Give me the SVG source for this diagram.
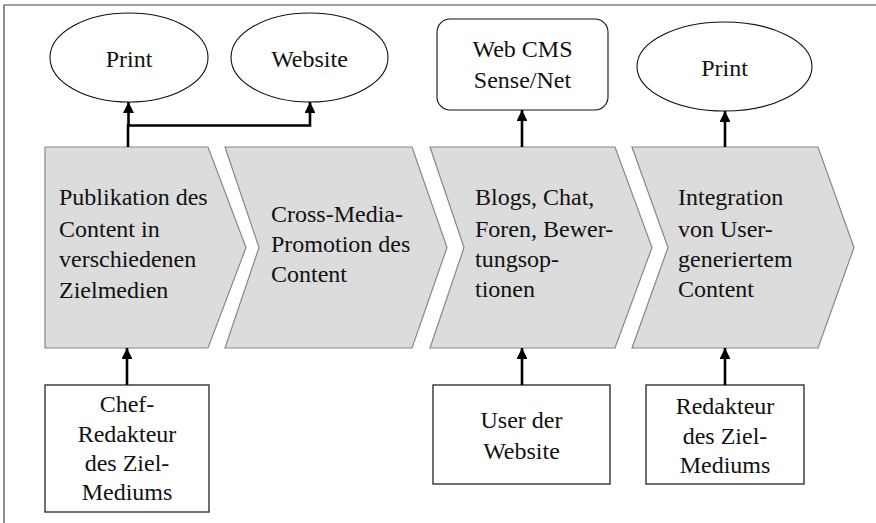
<svg xmlns="http://www.w3.org/2000/svg" width="876" height="523" viewBox="0 0 876 523">
  <style>
    .frame { fill: none; stroke: #444; stroke-width: 1.2; }
    .step { fill: #dcdcdc; stroke: #888; stroke-width: 1.2; }
    .oval { fill: #fff; stroke: #111; stroke-width: 1.1; }
    .box { fill: #fff; stroke: #333; stroke-width: 1.4; }
    .conn { fill: none; stroke: #000; stroke-width: 2.6; }
    .c { text-anchor: middle; }
  </style>
  <defs>
    <marker id="arrow" viewBox="0 0 10 10" refX="10" refY="5" markerWidth="4.2" markerHeight="4.2" orient="auto" markerUnits="strokeWidth">
      <path d="M0,0 L10,5 L0,10 Z" fill="#000"/>
    </marker>
  </defs>

  <!-- outer frame (top and left edge) -->
  <path class="frame" d="M4,523 V5 H876"/>

  <g font-family="'Liberation Serif', 'DejaVu Serif', serif" font-size="24" fill="#111">
  <!-- top row: output media -->
  <g id="print-1">
    <ellipse class="oval" cx="129" cy="57.5" rx="79" ry="44.5"/>
    <text class="c" x="129" y="67">Print</text>
  </g>
  <g id="website">
    <ellipse class="oval" cx="309.5" cy="57.5" rx="78.5" ry="44.5"/>
    <text class="c" x="309.5" y="67">Website</text>
  </g>
  <g id="web-cms">
    <rect class="oval" x="437" y="19" width="171" height="91" rx="13"/>
    <text class="c" x="522.5" y="57">Web CMS</text>
    <text class="c" x="522.5" y="88">Sense/Net</text>
  </g>
  <g id="print-2">
    <ellipse class="oval" cx="724.5" cy="66.5" rx="87.5" ry="44.5"/>
    <text class="c" x="724.5" y="76">Print</text>
  </g>

  <!-- process chevrons -->
  <g id="step-publikation">
    <path class="step" d="M45,147 H208 L246,247.5 L208,348 H45 Z"/>
    <text x="59" y="205">Publikation des</text>
    <text x="59" y="237">Content in</text>
    <text x="59" y="267">verschiedenen</text>
    <text x="59" y="298">Zielmedien</text>
  </g>
  <g id="step-promotion">
    <path class="step" d="M225,147 H412 L447,247.5 L412,348 H225 L259,247.5 Z"/>
    <text x="271" y="222">Cross-Media-</text>
    <text x="271" y="252">Promotion des</text>
    <text x="271" y="282">Content</text>
  </g>
  <g id="step-community">
    <path class="step" d="M430,147 H615 L652,247.5 L615,348 H430 L464,247.5 Z"/>
    <text x="475" y="205">Blogs, Chat,</text>
    <text x="475" y="237">Foren, Bewer-</text>
    <text x="475" y="267">tungsop-</text>
    <text x="475" y="297">tionen</text>
  </g>
  <g id="step-integration">
    <path class="step" d="M632,147 H818 L854,247.5 L818,348 H632 L668,247.5 Z"/>
    <text x="678" y="205">Integration</text>
    <text x="678" y="237">von User-</text>
    <text x="678" y="267">generiertem</text>
    <text x="678" y="297">Content</text>
  </g>

  <!-- bottom row: actors -->
  <g id="chef-redakteur">
    <rect class="box" x="45" y="385" width="164" height="127"/>
    <text class="c" x="127" y="412">Chef-</text>
    <text class="c" x="127" y="442">Redakteur</text>
    <text class="c" x="127" y="471">des Ziel-</text>
    <text class="c" x="127" y="500">Mediums</text>
  </g>
  <g id="user">
    <rect class="box" x="433" y="385" width="177" height="99"/>
    <text class="c" x="521.5" y="428">User der</text>
    <text class="c" x="521.5" y="459">Website</text>
  </g>
  <g id="redakteur">
    <rect class="box" x="646" y="385" width="158" height="99"/>
    <text class="c" x="725" y="414">Redakteur</text>
    <text class="c" x="725" y="444">des Ziel-</text>
    <text class="c" x="725" y="473">Mediums</text>
  </g>
  </g>

  <!-- connectors -->
  <g id="connectors">
    <path class="conn" d="M128,147 V125.5 H128.5 V102" marker-end="url(#arrow)"/>
    <path class="conn" d="M128,125.5 H310 V102" marker-end="url(#arrow)"/>
    <path class="conn" d="M522,147 V110" marker-end="url(#arrow)"/>
    <path class="conn" d="M725,147 V111" marker-end="url(#arrow)"/>
    <path class="conn" d="M127,385 V348" marker-end="url(#arrow)"/>
    <path class="conn" d="M522,385 V348" marker-end="url(#arrow)"/>
    <path class="conn" d="M725,385 V348" marker-end="url(#arrow)"/>
  </g>
</svg>
